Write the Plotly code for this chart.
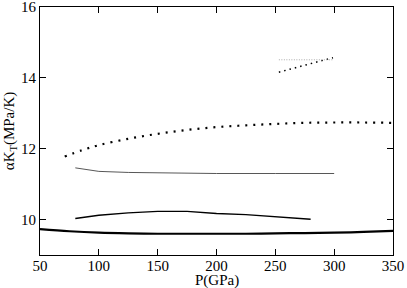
import plotly.graph_objects as go

# thick solid curve
p_a = [50, 75, 100, 125, 150, 175, 200, 225, 250, 275, 300, 325, 350]
v_a = [9.73, 9.67, 9.63, 9.61, 9.60, 9.60, 9.60, 9.60, 9.61, 9.62, 9.63, 9.65, 9.68]
# medium solid curve
p_b = [80, 100, 125, 150, 175, 200, 225, 250, 280]
v_b = [10.03, 10.12, 10.19, 10.23, 10.23, 10.17, 10.14, 10.09, 10.01]
# thin solid curve
p_c = [80, 100, 125, 150, 175, 200, 250, 300]
v_c = [11.46, 11.36, 11.33, 11.32, 11.30, 11.30, 11.30, 11.30]
# dotted curve
p_d = [71, 85, 100, 125, 150, 175, 200, 225, 250, 275, 300, 325, 350]
v_d = [11.78, 11.95, 12.10, 12.28, 12.42, 12.53, 12.61, 12.66, 12.70, 12.73, 12.74, 12.74, 12.73]
# short dotted line
p_e = [253, 275, 299]
v_e = [14.16, 14.35, 14.57]
# grey dotted line
p_f = [253, 299]
v_f = [14.51, 14.51]

fig = go.Figure()
fig.add_trace(go.Scatter(x=p_a, y=v_a, mode="lines", line=dict(color="black", width=2.2, shape="spline")))
fig.add_trace(go.Scatter(x=p_b, y=v_b, mode="lines", line=dict(color="black", width=1.4)))
fig.add_trace(go.Scatter(x=p_c, y=v_c, mode="lines", line=dict(color="#444444", width=0.9)))
fig.add_trace(go.Scatter(x=p_d, y=v_d, mode="lines", line=dict(color="black", width=2.2, dash="2px,6px", shape="spline")))
fig.add_trace(go.Scatter(x=p_e, y=v_e, mode="lines", line=dict(color="black", width=1.5, dash="1.5px,4px")))
fig.add_trace(go.Scatter(x=p_f, y=v_f, mode="lines", line=dict(color="#aaaaaa", width=1, dash="1px,1.5px")))

axis_common = dict(showline=True, linecolor="black", linewidth=1, mirror="ticks",
                   ticks="inside", ticklen=6, tickcolor="black", showgrid=False, zeroline=False,
                   automargin=False, ticklabeloverflow="allow",
                   tickfont=dict(family="Liberation Serif", size=15, color="black"))
fig.update_layout(
    width=407, height=288,
    margin=dict(l=40, r=14, t=7, b=33, autoexpand=False),
    paper_bgcolor="white", plot_bgcolor="white",
    showlegend=False,
    xaxis=dict(range=[50, 350], tickvals=[50, 100, 150, 200, 250, 300, 350],
               ticklabelstandoff=-3, **axis_common),
    yaxis=dict(range=[9, 16], tickvals=[10, 12, 14, 16],
               title=dict(text="αK<sub>T</sub>(MPa/K)", font=dict(family="Liberation Serif", size=15, color="black"), standoff=2),
               **axis_common),
    annotations=[dict(text="P(GPa)", xref="paper", yref="paper", x=0.5, y=0, yshift=-25,
                      xanchor="center", yanchor="middle", showarrow=False,
                      font=dict(family="Liberation Serif", size=15, color="black"))],
)
fig.write_html("out.html", config={"displayModeBar": False},
               post_script="document.body.style.margin='0';document.body.style.overflow='hidden';")
